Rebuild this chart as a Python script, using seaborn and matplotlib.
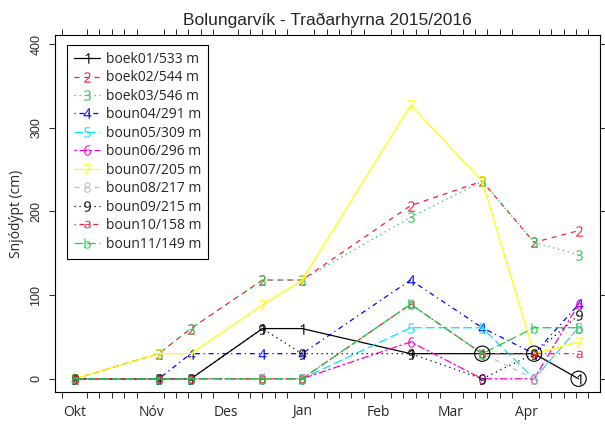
import pandas as pd
import numpy as np
import matplotlib.pyplot as plt
import matplotlib.dates as mdates
import seaborn as sns

# ---- data ----
dates = ["2015-10-01", "2015-11-04", "2015-11-17", "2015-12-16", "2016-01-01",
         "2016-02-14", "2016-03-14", "2016-04-04", "2016-04-22"]

series_names = ["boek01/533 m", "boek02/544 m", "boek03/546 m", "boun04/291 m",
                "boun05/309 m", "boun06/296 m", "boun07/205 m", "boun08/217 m",
                "boun09/215 m", "boun10/158 m", "boun11/149 m"]
series_chars = ["1", "2", "3", "4", "5", "6", "7", "8", "9", "a", "b"]

s01 = [0, 0, 0, 60, 60, 30, 30, 30, 0]
s02 = [0, 30, 60, 118, 118, 207, 236, 163, 177]
s03 = [0, 30, 60, 118, 118, 193, 236, 163, 148]
s04 = [0, 0, 30, 30, 30, 118, 61, 30, 89]
s05 = [0, 0, 0, 0, 0, 61, 61, 0, 61]
s06 = [0, 0, 0, 0, 0, 44, 0, 0, 89]
s07 = [0, 30, 30, 88, 118, 327, 236, 30, 44]
s08 = [0, 0, 0, 0, 0, 89, 30, 0, 61]
s09 = [0, 0, 0, 60, 30, 30, 0, 30, 76]
s10 = [0, 0, 0, 0, 0, 89, 30, 30, 30]
s11 = [0, 0, 0, 0, 0, 89, 30, 61, 61]
all_series = [s01, s02, s03, s04, s05, s06, s07, s08, s09, s10, s11]

# circled points (boek01, last three visits)
circle_idx = [6, 7, 8]

month_ticks = ["2015-10-01", "2015-11-01", "2015-12-01", "2016-01-01",
               "2016-02-01", "2016-03-01", "2016-04-01"]
month_labels = ["Okt", "Nóv", "Des", "Jan", "Feb", "Mar", "Apr"]

# ---- styling (R-like palette and line types) ----
colors = ["#000000", "#F5203C", "#22C94A", "#0000FF", "#00E5FF", "#FF00CC",
          "#FFFF00", "#BEBEBE", "#000000", "#F5203C", "#22C94A"]
dash_list = ["", (4, 4), (1, 3), (1, 3, 4, 3), (7, 3), (2, 2, 6, 2),
             "", (4, 4), (1, 3), (1, 3, 4, 3), (7, 3)]
marker_list = [r"$\mathregular{%s}$" % c for c in series_chars]

rows = []
for name, vals in zip(series_names, all_series):
    for d, v in zip(dates, vals):
        rows.append({"date": pd.Timestamp(d), "depth": v, "series": name})
df = pd.DataFrame(rows)

sns.set_style("ticks")
plt.rcParams["font.family"] = ["Open Sans", "DejaVu Sans"]

fig = plt.figure(figsize=(6.05, 4.25), dpi=100)
ax = fig.add_axes([55 / 605, 33 / 425, 545 / 605, 357 / 425])

sns.lineplot(data=df, x="date", y="depth", hue="series", style="series",
             hue_order=series_names, style_order=series_names,
             palette=dict(zip(series_names, colors)),
             dashes=dict(zip(series_names, dash_list)),
             markers=dict(zip(series_names, marker_list)),
             markersize=7.5, markeredgewidth=0, linewidth=0.9,
             estimator=None, sort=False, ax=ax)

# lowercase 'a' has no ascender, so shrink it to match the digits
small_marker = marker_list[series_chars.index("a")]

cx = [pd.Timestamp(dates[i]) for i in circle_idx]
cy = [s01[i] for i in circle_idx]
ax.scatter(cx, cy, s=120, facecolors="none", edgecolors="black",
           linewidths=0.8, zorder=5)

# axes limits in R style (4% extension)
ax.set_xlim(pd.Timestamp("2015-09-23"), pd.Timestamp("2016-04-30 16:00"))
ax.set_ylim(-15.8, 410.8)

ax.set_xticks([pd.Timestamp(m) for m in month_ticks])
ax.set_xticklabels(month_labels, fontsize=10)
ax.xaxis.set_minor_locator(mdates.DayLocator(bymonthday=[1, 6, 11, 16, 21, 26]))
ax.tick_params(axis="x", which="major", length=0, pad=9)
ax.tick_params(axis="x", which="minor", length=4, width=0.7, top=True,
               direction="out")
ax.set_yticks([0, 100, 200, 300, 400])
ax.set_yticklabels(["0", "100", "200", "300", "400"], rotation=90, va="center",
                   family="Liberation Sans", fontsize=9)
ax.tick_params(axis="y", length=4, width=0.7, right=True, direction="out", pad=5)

for sp in ax.spines.values():
    sp.set_visible(True)
    sp.set_linewidth(0.8)
    sp.set_color("black")

ax.set_xlabel("")
ax.set_ylabel("Snjódýpt (cm)", fontsize=10, labelpad=5)
ax.set_title("Bolungarvík - Traðarhyrna 2015/2016", family="Liberation Sans",
             fontsize=12.5, pad=7)

handles, labels = ax.get_legend_handles_labels()
leg = ax.legend(handles, labels, loc="upper left", bbox_to_anchor=(12 / 545, 1 - 10 / 357),
                borderaxespad=0, fancybox=False, framealpha=1, edgecolor="black",
                fontsize=10, labelspacing=0.25, handlelength=1.9,
                handletextpad=0.4, borderpad=0.5, numpoints=1)
leg.get_frame().set_linewidth(0.8)

for ln in list(ax.lines) + list(leg.get_lines()):
    if ln.get_marker() == small_marker:
        ln.set_markersize(5.5)

fig.savefig("out.png", dpi=100)
